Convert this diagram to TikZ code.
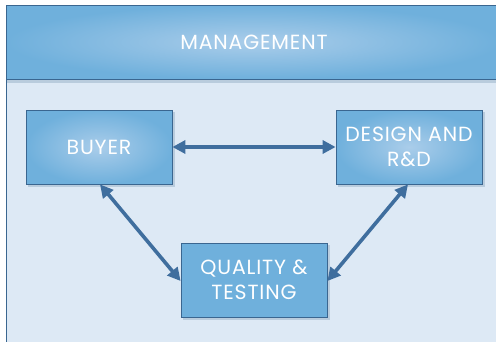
\documentclass[tikz,border=0pt]{standalone}
\usepackage{fontspec}
\setmainfont{Poppins}[LetterSpace=4]
\usetikzlibrary{arrows.meta}
\definecolor{bodybg}{HTML}{DDE9F5}
\definecolor{edge}{HTML}{6FB0DC}
\definecolor{center}{HTML}{AACDEA}
\definecolor{frame}{HTML}{3A6690}
\definecolor{arrowc}{HTML}{3F6E9E}
\definecolor{shadowc}{HTML}{B9CCDD}
\tikzset{
  box/.style={draw=frame, line width=0.8pt, minimum width=146pt, minimum height=74pt, inner sep=0pt,
    text=white, align=center, font=\fontsize{20.5}{25}\selectfont},
  link/.style={draw=arrowc, line width=3.6pt, {Triangle[length=13pt,width=13pt]}-{Triangle[length=13pt,width=13pt]}}
}
\begin{document}
\begin{tikzpicture}[x=1pt,y=-1pt]
\useasboundingbox (0,0) rectangle (496,341);
\clip (0,0) rectangle (496,341);
\fill[white] (0,0) rectangle (496,341);
\fill[bodybg] (6,79) rectangle (500,345);
\fill[shadowc] (6,80) rectangle (500,83);
\shade[inner color=center, outer color=edge] (6,5) rectangle (500,79);
\draw[frame, line width=0.9pt] (500,5) -- (6,5) -- (6,345);
\draw[frame, line width=0.9pt] (6,79) -- (500,79);
\node[text=white, font=\fontsize{20.5}{22}\selectfont] (mgmt) at (254,42) {MANAGEMENT};
% shadows
\fill[shadowc] (28,112) rectangle (175,187);
\fill[shadowc] (338,112) rectangle (485,187);
\fill[shadowc] (183,245) rectangle (330,320);
% boxes
\shade[inner color=center, outer color=edge] (26,110) rectangle (172,184);
\shade[inner color=center, outer color=edge] (336,110) rectangle (482,184);
\node[box] (buyer) at (99,147) {BUYER};
\node[box] (design) at (409,147) {DESIGN AND\\R\&D};
\node[box, fill=edge] (qual) at (254,280) {QUALITY \&\\TESTING};
\draw[link] (buyer.east) -- (design.west);
\draw[link] ([xshift=1pt]buyer.south) -- ([yshift=-1pt]qual.west);
\draw[link] ([xshift=-1pt]design.south) -- ([yshift=-1pt]qual.east);
\end{tikzpicture}
\end{document}
